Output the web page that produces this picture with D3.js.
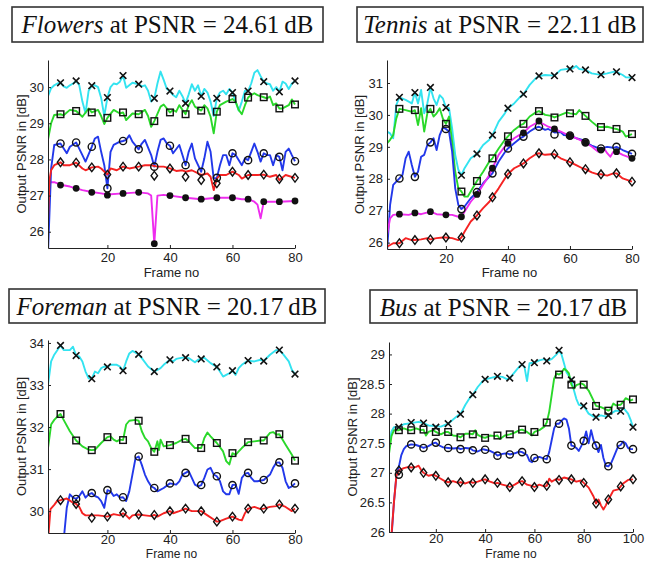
<!DOCTYPE html>
<html>
<head>
<meta charset="utf-8">
<script src="https://cdn.jsdelivr.net/npm/d3@7"></script>
<style>
body { margin: 0; background: #fff; }
</style>
</head>
<body>
<div id="chart"></div>
<script>
// ---- data (frame, PSNR) ----
var titleNames = ["Flowers", "Tennis", "Foreman", "Bus"];
var titlePsnr = ["24.61", "22.11", "20.17", "20.17"];

var markFrames80 = [5,10,15,20,25,30,35,40,45,50,55,60,65,70,75,80];
var markFrames100 = [5,10,15,20,25,30,35,40,45,50,55,60,65,70,75,80,85,90,95,100];
var xTicks80 = [20,40,60,80];
var xTicks100 = [20,40,60,80,100];
var yTicksFlowers = [26,27,28,29,30];
var yTicksTennis = [26,27,28,29,30,31];
var yTicksForeman = [30,31,32,33,34];
var yTicksBus = [26,26.5,27,27.5,28,28.5,29];

// Flowers
var flowersCyan = [[1,29.75],[2,29.97],[3,30.05],[4,30.1],[5,30.12],[6,30.02],[7,29.98],[8,30.05],[9,30.1],[10,30.17],[11,30.05],[12,29.6],[13,29.28],[14,29.9],[15,30.04],[16,30.05],[17,30.0],[18,29.7],[19,29.2],[20,29.71],[21,30.0],[22,30.1],[23,30.08],[24,30.15],[25,30.32],[26,29.98],[27,30.05],[28,30.12],[29,30.1],[30,30.08],[31,30.02],[32,30.05],[33,29.9],[34,29.6],[35,29.69],[36,30.1],[37,30.43],[38,30.2],[39,29.95],[40,29.89],[41,29.78],[42,29.72],[43,29.9],[44,29.75],[45,29.55],[46,29.8],[47,30.08],[48,29.9],[49,30.05],[50,29.75],[51,29.95],[52,29.85],[53,29.6],[54,29.2],[55,29.69],[56,29.85],[57,29.9],[58,29.8],[59,29.95],[60,29.85],[61,29.6],[62,29.35],[63,29.6],[64,29.9],[65,29.89],[66,30.1],[67,30.4],[68,30.47],[69,30.3],[70,30.15],[71,30.1],[72,30.08],[73,29.9],[74,30.0],[75,29.87],[76,30.15],[77,30.1],[78,29.95],[79,30.1],[80,30.17]];
var flowersGreen = [[1,28.55],[2,29.0],[3,29.23],[5,29.25],[6,29.22],[8,29.37],[10,29.34],[12,29.18],[14,29.41],[15,29.3],[17,29.37],[18,29.2],[19,28.98],[20,29.15],[22,29.37],[24,29.27],[25,29.3],[26,29.09],[28,29.27],[30,29.25],[32,29.37],[33,29.2],[34,28.9],[35,29.06],[37,29.46],[38,29.52],[40,29.3],[41,29.37],[42,29.32],[43,29.5],[44,29.37],[45,29.25],[46,29.5],[47,29.64],[48,29.46],[50,29.35],[51,29.5],[52,29.41],[53,29.18],[54,28.72],[55,29.32],[56,29.5],[58,29.6],[60,29.67],[61,29.6],[62,29.37],[63,29.25],[64,29.5],[65,29.71],[66,29.78],[67,29.83],[68,29.78],[70,29.72],[71,29.69],[72,29.74],[73,29.5],[74,29.55],[75,29.41],[76,29.41],[78,29.5],[79,29.66],[80,29.52]];
var flowersBlue = [[1,25.4],[2,27.75],[3,28.4],[5,28.44],[7,28.17],[8,28.35],[10,28.47],[12,28.12],[13,27.94],[15,28.35],[16,28.58],[17,28.63],[18,28.21],[19,27.84],[20,27.2],[21,28.21],[22,28.4],[24,28.49],[25,28.51],[26,28.54],[27,28.67],[28,28.49],[30,28.28],[31,28.44],[32,28.54],[34,28.12],[35,27.8],[36,28.21],[37,28.54],[38,28.58],[39,28.44],[40,28.38],[41,28.17],[43,28.4],[44,28.12],[45,27.84],[46,28.21],[47,28.44],[48,28.03],[49,27.84],[50,27.66],[51,28.03],[52,28.49],[53,28.21],[54,27.47],[55,27.49],[56,27.84],[57,28.12],[58,28.12],[59,27.84],[60,28.17],[61,28.12],[63,27.84],[64,28.03],[65,27.98],[66,28.21],[67,28.44],[68,28.21],[69,27.94],[70,28.17],[71,28.12],[72,28.12],[73,27.84],[74,28.12],[75,28.07],[76,27.7],[77,28.21],[78,28.3],[79,28.12],[80,27.95]];
var flowersRed = [[1,26.3],[1.5,27.45],[2,27.7],[3,27.84],[5,27.92],[6,27.84],[8,27.84],[10,27.91],[12,27.75],[13,27.7],[15,27.78],[17,27.8],[18,27.75],[20,27.58],[21,27.75],[23,27.7],[25,27.8],[27,27.75],[30,27.8],[32,27.84],[34,27.84],[36,27.8],[38,27.8],[40,27.75],[42,27.68],[44,27.7],[45,27.66],[47,27.7],[50,27.57],[52,27.61],[53,27.52],[54,27.15],[55,27.47],[56,27.57],[58,27.57],[60,27.66],[62,27.57],[63,27.47],[65,27.57],[68,27.57],[70,27.58],[72,27.52],[74,27.57],[75,27.43],[77,27.57],[80,27.49]];
var flowersMagenta = [[1,27.37],[3,27.37],[5,27.3],[8,27.25],[10,27.2],[12,27.15],[15,27.1],[18,27.06],[20,27.03],[25,27.06],[30,27.09],[33,27.06],[34,27.0],[35,25.67],[36,27.0],[38,27.02],[40,27.0],[45,26.94],[50,26.9],[55,26.94],[60,26.94],[63,26.9],[65,26.9],[67,26.83],[68,26.75],[69,26.37],[70,26.83],[75,26.83],[80,26.85]];
var flowersCyanMk = [30.12,30.17,30.04,29.71,30.32,30.08,29.69,29.89,29.55,29.75,29.69,29.85,29.89,30.15,29.87,30.17];
var flowersGreenMk = [29.25,29.34,29.3,29.15,29.3,29.25,29.06,29.3,29.25,29.35,29.32,29.67,29.71,29.72,29.41,29.52];
var flowersBlueMk = [28.44,28.47,28.35,27.2,28.51,28.28,27.8,28.38,27.84,27.66,27.49,28.17,27.98,28.17,28.07,27.95];
var flowersRedMk = [27.92,27.91,27.78,27.58,27.8,27.8,27.55,27.75,27.52,27.43,27.34,27.66,27.57,27.58,27.46,27.49];
var flowersMagentaMk = [27.29,27.2,27.09,27.01,27.06,27.09,25.67,27.0,26.94,26.9,26.94,26.94,26.9,26.83,26.83,26.85];

// Tennis
var tennisCyan = [[1,29.48],[2,29.42],[3,29.27],[4,30.31],[5,30.55],[7,30.47],[9,30.36],[10,30.7],[11,30.36],[12,30.78],[13,30.05],[14,30.36],[15,30.86],[16,30.52],[17,30.31],[18,30.62],[19,30.52],[20,30.23],[21,30.21],[22,29.58],[23,28.75],[24,28.28],[25,28.11],[26,28.33],[28,28.64],[30,28.78],[32,29.06],[34,29.22],[35,29.37],[37,29.79],[39,30.05],[40,30.21],[42,30.36],[44,30.57],[45,30.65],[47,30.94],[49,31.15],[50,31.22],[52,31.25],[55,31.23],[57,31.41],[59,31.44],[61,31.46],[62,31.53],[63,31.44],[65,31.41],[67,31.3],[69,31.27],[70,31.26],[72,31.3],[74,31.35],[75,31.35],[77,31.25],[78,31.18],[80,31.17]];
var tennisGreen = [[1,29.11],[2,29.22],[3,29.37],[4,29.89],[5,30.19],[7,30.15],[9,30.1],[10,30.15],[11,29.68],[12,30.21],[13,29.48],[14,30.05],[15,30.19],[16,29.95],[17,30.05],[18,30.21],[19,29.89],[20,29.72],[21,29.95],[22,29.16],[23,28.22],[24,27.7],[25,27.6],[26,27.44],[27,27.44],[28,27.6],[30,27.93],[32,28.22],[34,28.54],[35,28.64],[37,28.95],[39,29.22],[40,29.33],[42,29.53],[44,29.68],[45,29.72],[47,29.95],[49,30.08],[50,30.12],[52,30.0],[54,29.97],[55,29.92],[57,30.0],[59,30.08],[60,30.05],[62,30.02],[63,30.15],[64,30.05],[65,29.97],[67,29.79],[69,29.63],[70,29.62],[72,29.63],[74,29.58],[75,29.56],[77,29.48],[78,29.32],[80,29.4]];
var tennisBlue = [[1,25.7],[2,27.18],[3,27.81],[5,28.01],[6,28.12],[7,28.64],[8,28.85],[9,28.43],[10,28.06],[11,28.22],[12,28.69],[13,28.75],[14,29.06],[15,29.14],[16,29.27],[17,28.9],[18,29.37],[19,29.6],[20,29.56],[21,29.48],[22,28.85],[23,27.7],[24,27.18],[25,27.05],[26,27.13],[28,27.39],[30,27.58],[32,27.86],[34,28.07],[35,28.17],[37,28.54],[39,28.83],[40,28.95],[42,29.11],[44,29.27],[45,29.32],[47,29.48],[49,29.6],[50,29.63],[52,29.53],[53,29.56],[55,29.45],[57,29.46],[58,29.37],[60,29.35],[62,29.27],[64,29.22],[65,29.14],[67,29.04],[69,28.97],[70,28.95],[72,29.0],[74,28.97],[75,29.0],[77,28.9],[80,28.78]];
var tennisRed = [[1,25.87],[3,25.98],[5,25.98],[7,26.14],[9,26.08],[10,26.08],[12,26.1],[14,26.14],[15,26.1],[17,26.14],[19,26.16],[20,26.16],[22,26.14],[24,26.08],[25,26.16],[26,26.34],[28,26.66],[30,26.85],[32,27.08],[34,27.28],[35,27.42],[37,27.7],[39,28.01],[40,28.15],[42,28.33],[44,28.43],[45,28.48],[47,28.64],[49,28.77],[50,28.8],[52,28.75],[54,28.77],[55,28.77],[57,28.64],[59,28.56],[60,28.52],[62,28.43],[64,28.33],[65,28.3],[67,28.2],[69,28.14],[70,28.14],[72,28.1],[74,28.17],[75,28.17],[77,28.01],[80,27.91]];
var tennisMagenta = [[1,26.24],[2,26.76],[3,26.87],[5,26.89],[8,26.87],[10,26.93],[12,26.89],[15,26.97],[17,26.89],[20,26.87],[22,26.87],[24,26.81],[25,26.81],[26,26.97],[28,27.28],[30,27.51],[32,27.81],[34,28.12],[35,28.33],[37,28.75],[39,29.01],[40,29.11],[42,29.27],[44,29.39],[45,29.44],[47,29.63],[49,29.74],[50,29.81],[51,29.74],[53,29.63],[55,29.56],[57,29.48],[60,29.34],[62,29.27],[65,29.13],[67,29.01],[69,28.85],[70,28.9],[71,28.95],[72,28.8],[73,28.69],[74,28.85],[75,28.85],[77,28.75],[80,28.64]];
var tennisCyanMk = [30.55,30.7,30.86,30.23,28.11,28.78,29.37,30.21,30.65,31.22,31.23,31.44,31.41,31.26,31.35,31.17];
var tennisGreenMk = [30.19,30.15,30.19,29.72,27.6,27.93,28.64,29.33,29.72,30.12,29.92,30.05,29.97,29.62,29.56,29.4];
var tennisBlueMk = [28.01,28.06,29.14,29.56,27.05,27.58,28.17,28.95,29.32,29.63,29.39,29.35,29.14,28.95,29.0,28.78];
var tennisRedMk = [25.98,26.08,26.1,26.16,26.16,26.85,27.42,28.15,28.48,28.8,28.77,28.52,28.3,28.14,28.17,27.91];
var tennisMagentaMk = [26.89,26.93,26.97,26.87,26.81,27.51,28.33,29.11,29.44,29.81,29.56,29.34,29.13,28.9,28.85,28.64];

// Foreman
var foremanCyan = [[1,33.0],[2,33.56],[3,33.72],[5,33.94],[6,33.83],[8,33.83],[9,33.91],[10,33.7],[11,33.68],[12,33.56],[13,33.32],[14,33.16],[15,33.15],[16,33.32],[17,33.28],[18,33.4],[19,33.44],[20,33.43],[21,33.48],[23,33.48],[24,33.44],[25,33.34],[26,33.56],[27,33.75],[28,33.81],[30,33.73],[31,33.64],[33,33.44],[35,33.32],[36,33.36],[37,33.4],[38,33.48],[40,33.6],[41,33.56],[42,33.62],[44,33.65],[45,33.65],[46,33.64],[48,33.54],[49,33.6],[50,33.62],[51,33.65],[53,33.52],[55,33.43],[56,33.32],[57,33.2],[58,33.24],[59,33.28],[60,33.34],[61,33.24],[62,33.4],[63,33.48],[65,33.58],[67,33.56],[69,33.6],[70,33.57],[72,33.72],[74,33.83],[75,33.83],[76,33.75],[78,33.56],[79,33.36],[80,33.26]];
var foremanGreen = [[1,31.5],[2,32.06],[3,32.17],[4,32.25],[5,32.31],[6,32.17],[8,31.9],[10,31.68],[12,31.54],[14,31.46],[15,31.45],[16,31.46],[18,31.62],[20,31.76],[21,31.78],[22,31.7],[23,31.66],[24,31.7],[25,31.69],[26,32.06],[27,32.15],[29,32.17],[30,32.15],[31,31.9],[32,31.74],[33,31.66],[34,31.5],[35,31.41],[36,31.66],[36.5,31.45],[37,31.7],[38,31.54],[40,31.57],[42,31.62],[44,31.7],[45,31.72],[46,31.66],[48,31.5],[50,31.5],[51,31.74],[52,31.87],[53,31.78],[55,31.62],[57,31.42],[58,31.19],[59,31.11],[60,31.38],[61,31.34],[62,31.42],[63,31.5],[65,31.64],[67,31.66],[69,31.68],[70,31.68],[72,31.86],[73,31.88],[74,31.82],[75,31.83],[77,31.58],[79,31.34],[80,31.2]];
var foremanBlue = [[6,29.3],[7,30.08],[8,30.4],[9,30.32],[10,30.29],[11,30.36],[12,30.47],[13,30.32],[14,30.4],[15,30.43],[16,30.36],[17,30.33],[18,30.24],[19,30.08],[20,30.5],[21,30.47],[22,30.36],[23,30.4],[24,30.32],[25,30.33],[26,30.24],[27,30.47],[28,30.87],[29,31.26],[30,31.3],[31,31.1],[32,30.87],[33,30.71],[34,30.59],[35,30.55],[36,30.47],[38,30.55],[40,30.66],[42,30.63],[43,30.71],[44,30.87],[45,30.91],[46,30.95],[47,30.79],[48,30.63],[49,30.59],[50,30.62],[51,30.79],[52,30.99],[53,31.03],[54,30.87],[55,30.83],[56,30.71],[57,30.47],[58,30.4],[59,30.4],[60,30.62],[61,30.63],[62,30.41],[63,30.79],[64,30.89],[65,30.91],[66,30.79],[67,30.71],[68,30.71],[70,30.74],[72,30.87],[73,31.03],[74,31.15],[75,31.16],[76,31.03],[77,30.71],[78,30.55],[79,30.59],[80,30.66]];
var foremanRed = [[1,29.3],[1.8,30.05],[3,30.15],[4,30.25],[5,30.26],[6,30.28],[7,30.3],[8,30.25],[9,30.2],[10,30.17],[11,30.1],[12,29.95],[13,29.9],[15,29.9],[17,29.9],[19,29.88],[20,29.87],[22,29.93],[24,29.9],[25,29.95],[26,29.9],[27,29.82],[28,29.9],[30,29.92],[32,29.9],[34,29.88],[35,29.91],[36,29.87],[38,29.95],[40,30.0],[41,29.95],[43,30.0],[45,30.06],[47,30.0],[50,30.0],[52,29.9],[54,29.8],[55,29.75],[56,29.76],[58,29.82],[60,29.87],[62,29.8],[63,29.78],[64,29.95],[65,30.06],[67,30.1],[69,30.05],[70,30.06],[72,30.1],[74,30.12],[75,30.16],[77,30.1],[79,30.0],[80,30.06]];
var foremanCyanMk = [33.94,33.7,33.15,33.43,33.34,33.73,33.32,33.6,33.65,33.62,33.43,33.34,33.58,33.57,33.83,33.26];
var foremanGreenMk = [32.31,31.68,31.45,31.76,31.69,32.15,31.41,31.57,31.72,31.5,31.62,31.38,31.64,31.68,31.83,31.2];
var foremanBlueMk = [null,30.29,30.43,30.5,30.33,31.3,30.55,30.66,30.91,30.62,30.83,30.62,30.91,30.74,31.16,30.66];
var foremanRedMk = [30.26,30.17,29.84,29.87,29.96,29.92,29.91,30.0,30.06,30.0,29.75,29.87,30.06,30.06,30.16,30.06];

// Bus
var busCyan = [[1,27.45],[2,27.7],[3,27.77],[5,27.77],[7,27.82],[10,27.84],[13,27.86],[15,27.84],[17,27.8],[20,27.79],[22,27.78],[25,27.83],[27,27.9],[29,27.97],[30,27.99],[32,28.15],[34,28.28],[35,28.32],[37,28.45],[39,28.55],[40,28.58],[42,28.6],[44,28.62],[45,28.63],[47,28.62],[49,28.58],[50,28.6],[52,28.7],[53,28.75],[54,28.8],[55,28.83],[56,28.78],[57,28.55],[58,28.85],[60,28.86],[62,28.9],[64,28.92],[65,28.89],[67,28.92],[69,29.0],[70,29.07],[71,29.0],[72,28.85],[73,28.7],[75,28.57],[76,28.4],[77,28.25],[78,28.15],[80,28.13],[82,28.0],[84,27.95],[85,27.94],[87,27.97],[89,27.95],[90,27.97],[91,28.0],[93,28.05],[95,28.04],[96,28.1],[97,28.05],[98,28.0],[99,27.9],[100,27.77]];
var busGreen = [[1,27.32],[2,27.62],[3,27.72],[5,27.72],[7,27.75],[9,27.72],[10,27.72],[12,27.75],[14,27.72],[15,27.73],[16,27.63],[17,27.69],[19,27.72],[20,27.69],[22,27.65],[24,27.69],[25,27.69],[27,27.63],[29,27.62],[30,27.6],[32,27.66],[34,27.66],[35,27.65],[36,27.72],[37,27.64],[39,27.6],[40,27.59],[42,27.63],[44,27.62],[45,27.63],[46,27.57],[48,27.63],[50,27.65],[52,27.68],[54,27.72],[55,27.73],[57,27.69],[59,27.63],[60,27.69],[62,27.72],[64,27.78],[65,27.85],[66,28.03],[67,28.31],[68,28.59],[69,28.68],[70,28.66],[71,28.69],[72,28.76],[73,28.73],[74,28.68],[75,28.49],[76,28.42],[77,28.48],[79,28.51],[80,28.49],[82,28.39],[84,28.22],[85,28.13],[87,28.11],[89,28.07],[90,28.05],[91,28.08],[92,28.17],[93,28.14],[95,28.15],[96,28.2],[97,28.26],[99,28.22],[100,28.24]];
var busBlue = [[2,25.9],[3,26.5],[4,26.95],[5,27.1],[6,27.3],[7,27.4],[8,27.45],[10,27.48],[12,27.47],[14,27.44],[15,27.42],[17,27.45],[19,27.5],[20,27.51],[21,27.47],[23,27.43],[25,27.42],[27,27.41],[29,27.42],[30,27.4],[32,27.42],[34,27.41],[35,27.38],[37,27.36],[39,27.4],[40,27.39],[42,27.37],[44,27.33],[45,27.29],[47,27.32],[49,27.33],[50,27.31],[52,27.33],[54,27.36],[55,27.35],[57,27.3],[58,27.2],[59,27.18],[60,27.25],[62,27.27],[64,27.24],[65,27.23],[66,27.35],[67,27.55],[68,27.75],[69,27.83],[70,27.83],[71,27.88],[72,27.92],[73,27.9],[74,27.75],[75,27.46],[76,27.45],[77,27.42],[78,27.37],[79,27.45],[80,27.54],[81,27.7],[82,27.5],[83,27.72],[84,27.55],[85,27.46],[86,27.35],[87,27.47],[88,27.25],[89,27.12],[90,27.11],[91,27.15],[92,27.25],[93,27.35],[94,27.45],[95,27.47],[96,27.53],[97,27.5],[98,27.42],[99,27.4],[100,27.4]];
var busRed = [[2,25.95],[3,26.5],[4,26.95],[5,27.04],[7,27.08],[9,27.1],[10,27.09],[12,27.1],[13,27.12],[14,27.05],[15,27.0],[17,26.95],[19,26.97],[20,26.95],[22,26.9],[24,26.85],[25,26.84],[27,26.86],[29,26.83],[30,26.84],[32,26.82],[34,26.85],[35,26.83],[37,26.85],[39,26.88],[40,26.89],[42,26.85],[44,26.82],[45,26.83],[47,26.8],[49,26.78],[50,26.76],[52,26.8],[54,26.85],[55,26.86],[57,26.8],[59,26.78],[60,26.76],[62,26.8],[64,26.77],[65,26.78],[66,26.9],[67,26.85],[69,26.9],[70,26.88],[72,26.92],[74,26.9],[75,26.89],[77,26.85],[79,26.87],[80,26.83],[82,26.75],[84,26.6],[85,26.48],[86,26.55],[87,26.45],[88,26.38],[89,26.45],[90,26.55],[91,26.62],[92,26.7],[94,26.72],[95,26.77],[96,26.82],[98,26.88],[100,26.89]];
var busCyanMk = [27.77,27.85,27.84,27.77,27.83,27.99,28.32,28.58,28.63,28.6,28.83,28.86,28.89,29.07,28.57,28.13,27.94,27.97,28.04,27.77];
var busGreenMk = [27.72,27.72,27.73,27.69,27.69,27.6,27.65,27.59,27.63,27.65,27.73,27.69,27.85,28.66,28.49,28.49,28.13,28.05,28.15,28.24];
var busBlueMk = [26.97,27.48,27.42,27.51,27.42,27.4,27.38,27.39,27.29,27.31,27.35,27.25,27.23,27.83,27.46,27.54,27.46,27.11,27.47,27.4];
var busRedMk = [27.04,27.09,27.0,26.95,26.84,26.84,26.83,26.89,26.83,26.76,26.86,26.76,26.78,26.88,26.89,26.83,26.48,26.55,26.77,26.89];

// ---- styles ----
var lineColor = {cyan: "#33e3f0", green: "#2ad82a", blue: "#2238ea", red: "#f52222", magenta: "#ee2cee"};
var markShape = {cyan: "x", green: "square", blue: "circle", red: "diamond", magenta: "dot"};
var sansFont = "'Liberation Sans', Arial, Helvetica, sans-serif";
var serifFont = "'Liberation Serif', 'Times New Roman', 'DejaVu Serif', serif";

var panels = [
    {box: [12, 7, 311, 35], left: 48, right: 295, top: 60, bottom: 248, xDom: [1, 80], yDom: [25.55, 30.75],
        xTicks: xTicks80, yTicks: yTicksFlowers, frames: markFrames80, ylabX: 22, xlabY: 277, xPad: 5, xlabSize: 13,
        series: [["cyan", flowersCyan, flowersCyanMk], ["green", flowersGreen, flowersGreenMk], ["magenta", flowersMagenta, flowersMagentaMk],
            ["blue", flowersBlue, flowersBlueMk], ["red", flowersRed, flowersRedMk]]},
    {box: [357, 7, 286, 35], left: 387, right: 632, top: 60, bottom: 249, xDom: [1, 80], yDom: [25.8, 31.72],
        xTicks: xTicks80, yTicks: yTicksTennis, frames: markFrames80, ylabX: 360, xlabY: 277, xPad: 5, xlabSize: 13,
        series: [["cyan", tennisCyan, tennisCyanMk], ["green", tennisGreen, tennisGreenMk], ["blue", tennisBlue, tennisBlueMk],
            ["magenta", tennisMagenta, tennisMagentaMk], ["red", tennisRed, tennisRedMk]]},
    {box: [9, 289, 316, 34], left: 48, right: 295, top: 340, bottom: 533, xDom: [1, 80], yDom: [29.48, 34.07],
        xTicks: xTicks80, yTicks: yTicksForeman, frames: markFrames80, ylabX: 22, xlabY: 558, xPad: 2, xlabSize: 12,
        series: [["cyan", foremanCyan, foremanCyanMk], ["green", foremanGreen, foremanGreenMk], ["blue", foremanBlue, foremanBlueMk],
            ["red", foremanRed, foremanRedMk]]},
    {box: [370, 290, 267, 33], left: 389, right: 633, top: 342, bottom: 532, xDom: [1, 100], yDom: [26, 29.21],
        xTicks: xTicks100, yTicks: yTicksBus, frames: markFrames100, ylabX: 353, xlabY: 558, xPad: 2, xlabSize: 12,
        series: [["cyan", busCyan, busCyanMk], ["green", busGreen, busGreenMk], ["blue", busBlue, busBlueMk],
            ["red", busRed, busRedMk]]}
];

var svg = d3.select("#chart")
    .append("svg")
    .attr("width", 652)
    .attr("height", 561)
    .style("background", "#fff");

var defs = svg.append("defs");

function drawMarker(g, shape, cx, cy) {
    var s = 3.3;
    if (shape == "x") {
        g.append("path")
            .attr("d", "M" + (cx - s) + "," + (cy - s) + "L" + (cx + s) + "," + (cy + s) + "M" + (cx - s) + "," + (cy + s) + "L" + (cx + s) + "," + (cy - s))
            .attr("stroke", "#111").attr("stroke-width", 1.6).attr("fill", "none");
    } else if (shape == "square") {
        g.append("rect")
            .attr("x", cx - s).attr("y", cy - s).attr("width", 2 * s).attr("height", 2 * s)
            .attr("stroke", "#111").attr("stroke-width", 1.4).attr("fill", "none");
    } else if (shape == "circle") {
        g.append("circle")
            .attr("cx", cx).attr("cy", cy).attr("r", 3.6)
            .attr("stroke", "#111").attr("stroke-width", 1.4).attr("fill", "none");
    } else if (shape == "diamond") {
        var d = 4.3;
        g.append("path")
            .attr("d", "M" + cx + "," + (cy - d) + "L" + (cx + d * 0.75) + "," + cy + "L" + cx + "," + (cy + d) + "L" + (cx - d * 0.75) + "," + cy + "Z")
            .attr("stroke", "#111").attr("stroke-width", 1.4).attr("fill", "none");
    } else {
        g.append("circle")
            .attr("cx", cx).attr("cy", cy).attr("r", 3.4)
            .attr("fill", "#111");
    }
}

panels.forEach(function (p, i) {
    var x = d3.scaleLinear().domain(p.xDom).range([p.left, p.right]);
    var y = d3.scaleLinear().domain(p.yDom).range([p.bottom, p.top]);
    var g = svg.append("g");

    defs.append("clipPath")
        .attr("id", "clip" + i)
        .append("rect")
        .attr("x", p.left)
        .attr("y", p.top - 10)
        .attr("width", p.right - p.left + 4)
        .attr("height", p.bottom - p.top + 10);

    var line = d3.line()
        .x(function (d) { return x(d[0]); })
        .y(function (d) { return y(d[1]); });

    var lineG = g.append("g").attr("clip-path", "url(#clip" + i + ")");
    p.series.forEach(function (s) {
        lineG.append("path")
            .datum(s[1])
            .attr("d", line)
            .attr("fill", "none")
            .attr("stroke", lineColor[s[0]])
            .attr("stroke-width", 1.9)
            .attr("stroke-linejoin", "round");
    });

    var markG = g.append("g");
    p.series.forEach(function (s) {
        s[2].forEach(function (v, k) {
            if (v == null) return;
            drawMarker(markG, markShape[s[0]], x(p.frames[k]), y(v));
        });
    });

    // axes, MATLAB style ticks pointing inwards
    var xAxis = g.append("g")
        .attr("transform", "translate(0," + p.bottom + ")")
        .call(d3.axisBottom(x).tickValues(p.xTicks).tickSizeInner(-3).tickSizeOuter(0).tickPadding(p.xPad));
    var yAxis = g.append("g")
        .attr("transform", "translate(" + p.left + ",0)")
        .call(d3.axisLeft(y).tickValues(p.yTicks).tickSizeInner(-3).tickSizeOuter(0).tickPadding(4)
            .tickFormat(function (d) { return d; }));

    [xAxis, yAxis].forEach(function (a) {
        a.selectAll("path, line").attr("stroke", "#222").attr("stroke-width", 1);
        a.selectAll("text")
            .attr("font-family", sansFont)
            .attr("font-size", 13)
            .attr("fill", "#222");
    });

    g.append("text")
        .attr("x", (p.left + p.right) / 2)
        .attr("y", p.xlabY)
        .attr("text-anchor", "middle")
        .attr("font-family", sansFont)
        .attr("font-size", p.xlabSize)
        .attr("fill", "#222")
        .text("Frame no");

    g.append("text")
        .attr("transform", "translate(" + (p.ylabX + 4) + "," + ((p.top + p.bottom) / 2) + ") rotate(-90)")
        .attr("text-anchor", "middle")
        .attr("font-family", sansFont)
        .attr("font-size", 13)
        .attr("fill", "#222")
        .text("Output PSNR in [dB]");

    // boxed title
    g.append("rect")
        .attr("x", p.box[0])
        .attr("y", p.box[1])
        .attr("width", p.box[2])
        .attr("height", p.box[3])
        .attr("fill", "#fff")
        .attr("stroke", "#333")
        .attr("stroke-width", 1.6);

    var t = g.append("text")
        .attr("x", p.box[0] + p.box[2] / 2)
        .attr("y", p.box[1] + 26)
        .attr("text-anchor", "middle")
        .attr("font-family", serifFont)
        .attr("font-size", 25)
        .attr("fill", "#111");
    t.append("tspan").attr("font-style", "italic").text(titleNames[i]);
    t.append("tspan").text(" at PSNR = " + titlePsnr[i] + "\u2009dB");
});
</script>
</body>
</html>
